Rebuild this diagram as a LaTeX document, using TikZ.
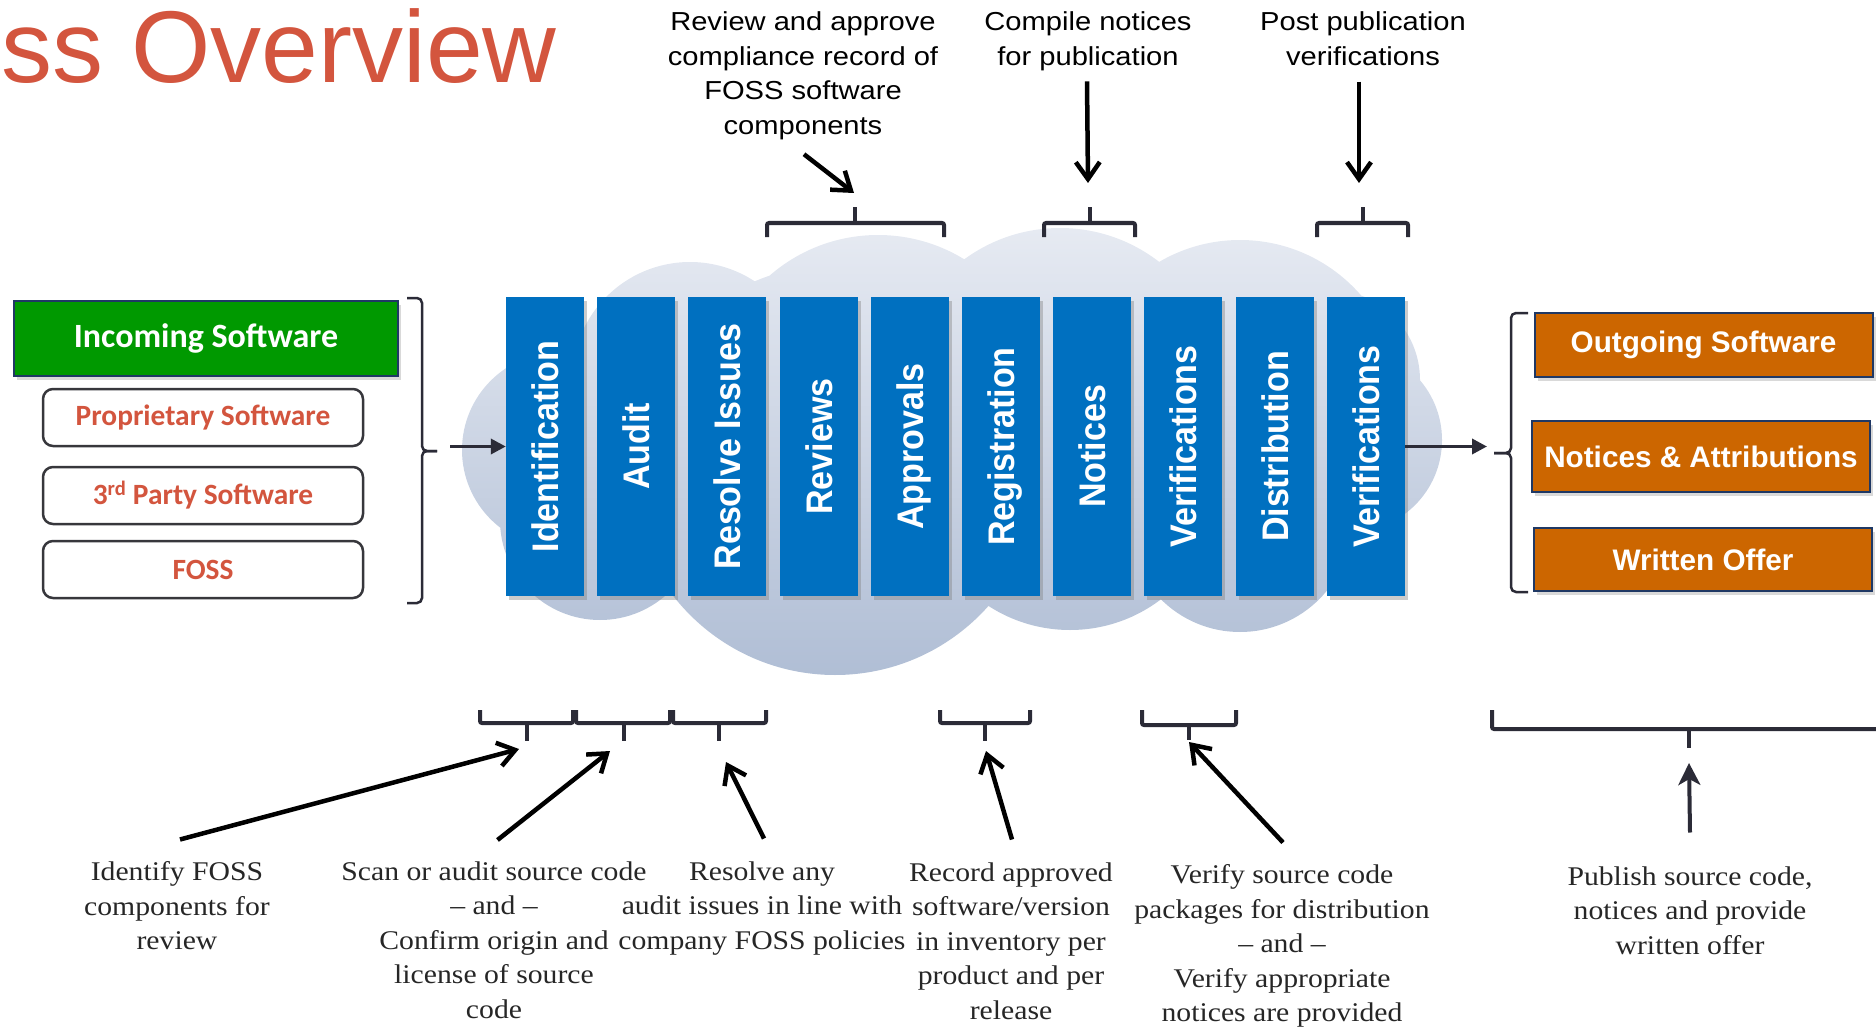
\documentclass[tikz,border=0pt]{standalone}
\usepackage{graphicx}
\usepackage{fontspec}
\setmainfont{Liberation Serif}
\newfontfamily\titlefont{Liberation Sans}
\newfontfamily\barfont[FakeStretch=0.92]{Liberation Sans}
\newfontfamily\notefont[FakeStretch=1.12]{Liberation Sans}
\newfontfamily\boxfont{Liberation Sans}
\newfontfamily\calfont{Carlito}
\newfontfamily\stepfont[FakeStretch=1.1]{Liberation Serif}
\usetikzlibrary{arrows.meta,positioning,shadows}

\definecolor{fossred}{RGB}{211,85,62}
\definecolor{ingreen}{RGB}{0,153,0}
\definecolor{outorange}{RGB}{204,102,0}
\definecolor{barblue}{RGB}{0,112,192}
\definecolor{navyline}{RGB}{31,56,100}
\definecolor{boxline}{RGB}{55,55,60}
\definecolor{bracegray}{RGB}{43,43,55}
\definecolor{cloudtop}{RGB}{230,234,242}
\definecolor{cloudbot}{RGB}{176,190,213}
\definecolor{textgray}{RGB}{38,38,38}

\newcommand{\phasetext}[1]{\rotatebox{90}{\raisebox{0pt}[\height][0pt]{#1}}}

\begin{document}
\begin{tikzpicture}[
  x=1pt, y=-1pt,
  >=Latex,
  phase/.style={rectangle, fill=barblue, minimum width=78pt, minimum height=299pt, inner sep=0pt, text=white, font=\barfont\bfseries\fontsize{37}{42}\selectfont, drop shadow={shadow xshift=3pt, shadow yshift=-4pt, opacity=0.4}},
  inbox/.style={rectangle, draw=navyline, line width=2pt, fill=ingreen, minimum width=384pt, minimum height=75pt, text=white, font=\calfont\bfseries\fontsize{34}{40}\selectfont, drop shadow={shadow xshift=3pt, shadow yshift=-4pt, opacity=0.3}},
  srcbox/.style={rectangle, rounded corners=10pt, draw=boxline, line width=2.5pt, fill=white, minimum width=320pt, minimum height=57pt, text=fossred, font=\calfont\bfseries\fontsize{29.4}{34}\selectfont},
  outbox/.style={rectangle, draw=navyline, line width=2pt, fill=outorange, minimum width=338pt, text=white, font=\boxfont\bfseries\fontsize{29.7}{34}\selectfont, drop shadow={shadow xshift=3pt, shadow yshift=-4pt, opacity=0.3}},
  note/.style={align=center, inner sep=0pt, anchor=north, text=black, font=\notefont\fontsize{26}{34.7}\selectfont},
  stepnote/.style={align=center, inner sep=0pt, anchor=north, text=textgray, font=\stepfont\fontsize{27}{34.5}\selectfont},
  brace/.style={draw=bracegray, line width=2.5pt, rounded corners=5pt},
  brack/.style={draw=bracegray, line width=4pt, rounded corners=2pt},
  flow/.style={draw=bracegray, line width=3.5pt, -{Triangle[length=15pt,width=15pt]}},
  arr/.style={draw=black, line width=4.5pt, -{Straight Barb[length=17pt,width=24pt]}},
  pub/.style={draw=bracegray, line width=4pt, -{Stealth[length=22pt,width=22pt,inset=6pt]}}
]
\useasboundingbox (0,0) rectangle (1876,1027);

\shade[top color=cloudtop, bottom color=cloudbot]
  (560,450) circle[radius=98] (690,380) circle[radius=118] (878,400) circle[radius=165]
  (1060,390) circle[radius=162] (1240,400) circle[radius=160] (1330,380) circle[radius=90]
  (1350,440) circle[radius=92] (1240,520) circle[radius=112] (835,470) circle[radius=205]
  (600,520) circle[radius=100] (1070,480) circle[radius=150];

\node[anchor=base west, inner sep=0pt, text=fossred, font=\titlefont\fontsize{102}{108}\selectfont] (title) at (1,83) {ss Overview};

\node[inbox] (incoming) at (206,338.5) {Incoming Software};
\node[srcbox] (prop) at (203,417.5) {Proprietary Software};
\node[srcbox, below=18.5pt of prop] (third) {3\textsuperscript{rd} Party Software};
\node[srcbox, below=14.5pt of third] (foss) {FOSS};

\node[phase] (ident) at (545,446.5) {\phasetext{Identification}};
\node[phase, right=12.8pt of ident] (audit) {\phasetext{Audit}};
\node[phase, right=12.8pt of audit] (resolve) {\phasetext{Resolve Issues}};
\node[phase, right=12.8pt of resolve] (reviews) {\phasetext{Reviews}};
\node[phase, right=12.8pt of reviews] (approvals) {\phasetext{Approvals}};
\node[phase, right=12.8pt of approvals] (regist) {\phasetext{Registration}};
\node[phase, right=12.8pt of regist] (notices) {\phasetext{Notices}};
\node[phase, right=12.8pt of notices] (verif) {\phasetext{Verifications}};
\node[phase, right=12.8pt of verif] (distrib) {\phasetext{Distribution}};
\node[phase, right=12.8pt of distrib] (postverif) {\phasetext{Verifications}};

\node[outbox, minimum height=64pt] (outgoing) at (1703.5,345) {Outgoing Software};
\node[outbox, minimum height=71pt] (attrib) at (1701,456.5) {Notices \& Attributions};
\node[outbox, minimum height=63pt] (offer) at (1703,559.5) {Written Offer};

\node[note] (revnote) at (803,11.5) {Review and approve\\compliance record of\\FOSS software\\components};
\node[note] (compnote) at (1088,11.5) {Compile notices\\for publication};
\node[note] (postnote) at (1363,11.5) {Post publication\\verifications};

\node[stepnote] (idnote) at (177,861.5) {Identify FOSS\\components for\\review};
\node[stepnote] (scannote) at (494,861.5) {Scan or audit source code\\– and –\\Confirm origin and\\license of source\\code};
\node[stepnote] (resnote) at (762,861.5) {Resolve any\\audit issues in line with\\company FOSS policies};
\node[stepnote] (recnote) at (1011,862.5) {Record approved\\software/version\\in inventory per\\product and per\\release};
\node[stepnote] (vernote) at (1282,864.5) {Verify source code\\packages for distribution\\– and –\\Verify appropriate\\notices are provided};
\node[stepnote] (pubnote) at (1690,866.5) {Publish source code,\\notices and provide\\written offer};

\coordinate (intail) at (450,446.5);
\coordinate (outtip) at (1487,446.5);
\coordinate (revtip) at (854,193);
\coordinate (comptip) at (1088,183);
\coordinate (posttip) at (1359,183);
\coordinate (idtip) at (519,749);
\coordinate (audtip) at (610,751);
\coordinate (restip) at (726,762);
\coordinate (regtip) at (986,751);
\coordinate (vertip) at (1189,742);
\coordinate (pubtip) at (1689,763);

\draw[brace] (407,298) -- (422,298) -- (422,451) -- (437,451);
\draw[brace] (407,603) -- (422,603) -- (422,451) -- (437,451);
\draw[brace] (1528,313) -- (1511,313) -- (1511,453) -- (1494,453);
\draw[brace] (1528,592) -- (1511,592) -- (1511,453) -- (1494,453);

\draw[brack] (767,237) -- (767,223) -- (944,223) -- (944,237);
\draw[brack] (855,223) -- (855,207);
\draw[brack] (1044,237) -- (1044,223) -- (1135,223) -- (1135,237);
\draw[brack] (1090,223) -- (1090,207);
\draw[brack] (1317,237) -- (1317,223) -- (1408,223) -- (1408,237);
\draw[brack] (1363,223) -- (1363,207);

\draw[brack] (480,710) -- (480,723) -- (573,723) -- (573,710);
\draw[brack] (527,723) -- (527,741);
\draw[brack] (576,710) -- (576,723) -- (670,723) -- (670,710);
\draw[brack] (624,723) -- (624,741);
\draw[brack] (673,710) -- (673,723) -- (766,723) -- (766,710);
\draw[brack] (719,723) -- (719,741);
\draw[brack] (940,710) -- (940,723) -- (1030,723) -- (1030,710);
\draw[brack] (985,723) -- (985,741);
\draw[brack] (1142,710) -- (1142,725) -- (1236,725) -- (1236,710);
\draw[brack] (1189,725) -- (1189,740);
\draw[brack] (1492,710) -- (1492,729) -- (1890,729);
\draw[brack] (1689,729) -- (1689,748);

\draw[flow] (intail) -- (ident);
\draw[flow] (postverif) -- (outtip);

\draw[arr] ([shift={(1pt,-14pt)}]revnote.south) -- (revtip);
\draw[arr] ([shift={(-1pt,-10.5pt)}]compnote.south) -- (comptip);
\draw[arr] ([shift={(-4pt,-16pt)}]postnote.south) -- (posttip);

\draw[arr] ([shift={(3pt,22pt)}]idnote.north) -- (idtip);
\draw[arr] ([shift={(3.5pt,21.5pt)}]scannote.north) -- (audtip);
\draw[arr] ([shift={(2pt,23pt)}]resnote.north) -- (restip);
\draw[arr] ([shift={(1pt,23pt)}]recnote.north) -- (regtip);
\draw[arr] ([shift={(1pt,22pt)}]vernote.north) -- (vertip);
\draw[pub] ([yshift=34pt]pubnote.north) -- (pubtip);
\end{tikzpicture}
\end{document}
